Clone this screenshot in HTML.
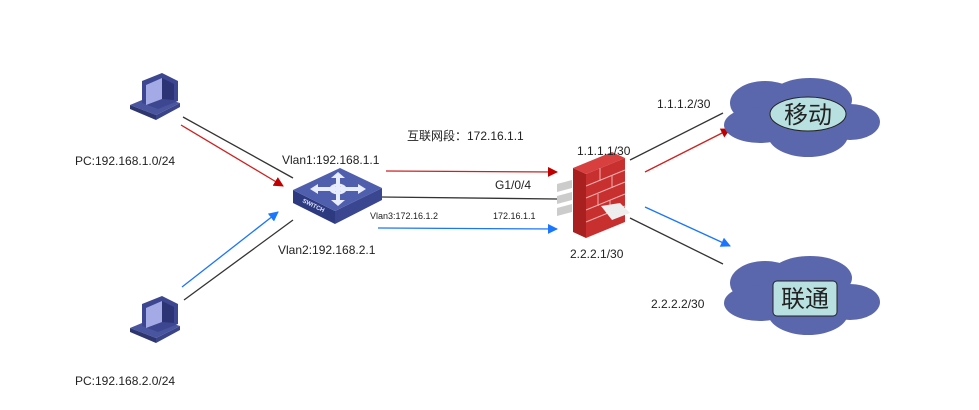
<!DOCTYPE html>
<html><head><meta charset="utf-8"><style>
html,body{margin:0;padding:0;background:#fff;}
svg{display:block;}
text{font-family:"Liberation Sans","Noto Sans CJK SC",sans-serif;fill:#222;}
</style></head><body>
<svg width="979" height="410" viewBox="0 0 979 410" xmlns="http://www.w3.org/2000/svg">
<defs>
<marker id="ar" markerWidth="10" markerHeight="10" refX="9" refY="5" orient="auto" markerUnits="userSpaceOnUse"><path d="M0,0 L10,5 L0,10 z" fill="#c00000"/></marker>
<marker id="ab" markerWidth="10" markerHeight="10" refX="9" refY="5" orient="auto" markerUnits="userSpaceOnUse"><path d="M0,0 L10,5 L0,10 z" fill="#1a75ff"/></marker>
<g id="pc">
<polygon points="-6,28 18,18 44,26 20,38" fill="#4a55a0"/>
<polygon points="-6,28 20,38 20,43 -6,32" fill="#2e3670"/>
<polygon points="20,38 44,26 44,30 20,43" fill="#3a4488"/>
<polygon points="6,4 26,-4 42,4 42,24 22,32 6,26" fill="#3d4690"/>
<polygon points="10,8 26,1 26,22 10,28" fill="#a4aae6"/>
<polygon points="26,1 38,7 38,23 26,22" fill="#2c3475"/>
</g>
</defs>

<use href="#pc" x="136" y="77"/>
<use href="#pc" x="136" y="300"/>

<line x1="183" y1="117" x2="293" y2="178" stroke="#333" stroke-width="1.3"/>
<line x1="181" y1="125" x2="283" y2="186" stroke="#d02020" stroke-width="1.3" marker-end="url(#ar)"/>
<line x1="184" y1="300" x2="293" y2="220" stroke="#333" stroke-width="1.3"/>
<line x1="182" y1="287" x2="278" y2="212" stroke="#1a75ff" stroke-width="1.3" marker-end="url(#ab)"/>

<line x1="386" y1="171" x2="557" y2="172" stroke="#d02020" stroke-width="1.3" marker-end="url(#ar)"/>
<line x1="380" y1="197" x2="557" y2="199" stroke="#333" stroke-width="1.3"/>
<line x1="378" y1="228" x2="557" y2="229" stroke="#1a75ff" stroke-width="1.3" marker-end="url(#ab)"/>

<line x1="630" y1="160" x2="723" y2="113" stroke="#333" stroke-width="1.3"/>
<line x1="645" y1="172" x2="730" y2="129" stroke="#d02020" stroke-width="1.3" marker-end="url(#ar)"/>
<line x1="645" y1="207" x2="730" y2="246" stroke="#1a75ff" stroke-width="1.3" marker-end="url(#ab)"/>
<line x1="630" y1="218" x2="723" y2="264" stroke="#333" stroke-width="1.3"/>

<polygon points="293,203 335,224 335,211 293,190" fill="#2e3a80"/>
<polygon points="335,224 382,200 382,188 335,211" fill="#3a4690"/>
<polygon points="293,190 340,168 382,188 335,211" fill="#4f5fae"/>
<g fill="#e8ecff" stroke="none">
<ellipse cx="338" cy="189" rx="7" ry="4" fill="none" stroke="#e8ecff" stroke-width="3"/>
<polygon points="338,172 345,178 331,178"/>
<polygon points="338,206 345,200 331,200"/>
<polygon points="310,189 318,184 318,194"/>
<polygon points="366,189 358,184 358,194"/>
<rect x="336" y="177" width="4" height="24"/>
<rect x="317" y="187" width="42" height="4"/>
</g>
<text x="302" y="202" font-size="6" font-weight="bold" style="fill:#dfe4ff" transform="rotate(26 302 202)">SWITCH</text>

<g fill="#cccccc">
<polygon points="557,184 572,180 572,188 557,192"/>
<polygon points="557,196 572,192 572,200 557,204"/>
<polygon points="557,208 572,204 572,212 557,216"/>
</g>
<polygon points="573,168 612,152 625,158 586,174" fill="#d84040"/>
<polygon points="573,168 586,174 586,238 573,232" fill="#a82020"/>
<polygon points="586,174 625,158 625,222 586,238" fill="#c83030"/>
<g stroke="#f0b0b0" stroke-width="1">
<line x1="586" y1="186" x2="625" y2="170"/><line x1="586" y1="198" x2="625" y2="182"/>
<line x1="586" y1="210" x2="625" y2="194"/><line x1="586" y1="222" x2="625" y2="206"/>
<line x1="600" y1="168" x2="600" y2="181"/><line x1="612" y1="175" x2="612" y2="188"/>
<line x1="598" y1="194" x2="598" y2="206"/><line x1="610" y1="200" x2="610" y2="212"/>
</g>
<polygon points="601,206 620,203 630,213 612,220" fill="#eeeeee"/>

<g fill="#5a67ac">
<ellipse cx="765" cy="103" rx="35" ry="22"/>
<ellipse cx="810" cy="100" rx="42" ry="22"/>
<ellipse cx="850" cy="122" rx="30" ry="18"/>
<ellipse cx="808" cy="135" rx="40" ry="22"/>
<ellipse cx="760" cy="125" rx="36" ry="18"/>
<ellipse cx="765" cy="283" rx="35" ry="22"/>
<ellipse cx="810" cy="278" rx="42" ry="22"/>
<ellipse cx="850" cy="302" rx="30" ry="18"/>
<ellipse cx="808" cy="313" rx="40" ry="22"/>
<ellipse cx="760" cy="303" rx="36" ry="18"/>
</g>
<ellipse cx="808" cy="114" rx="38" ry="17" fill="#b8e0e0" stroke="#222" stroke-width="1"/>
<text x="808" y="123" font-size="24" text-anchor="middle">移动</text>
<rect x="773" y="281" width="64" height="35" rx="4" fill="#b8e0e0" stroke="#222" stroke-width="1"/>
<text x="805" y="307" font-size="24" text-anchor="middle">联通</text>

<g font-size="12">
<text x="75" y="165">PC:192.168.1.0/24</text>
<text x="75" y="385">PC:192.168.2.0/24</text>
<text x="282" y="164">Vlan1:192.168.1.1</text>
<text x="278" y="254">Vlan2:192.168.2.1</text>
<text x="407" y="140">互联网段：172.16.1.1</text>
<text x="495" y="189">G1/0/4</text>
<text x="657" y="108">1.1.1.2/30</text>
<text x="577" y="155">1.1.1.1/30</text>
<text x="570" y="258">2.2.2.1/30</text>
<text x="651" y="308">2.2.2.2/30</text>
</g>
<text x="370" y="219" font-size="9">Vlan3:172.16.1.2</text>
<text x="493" y="219" font-size="9">172.16.1.1</text>
</svg>
</body></html>
